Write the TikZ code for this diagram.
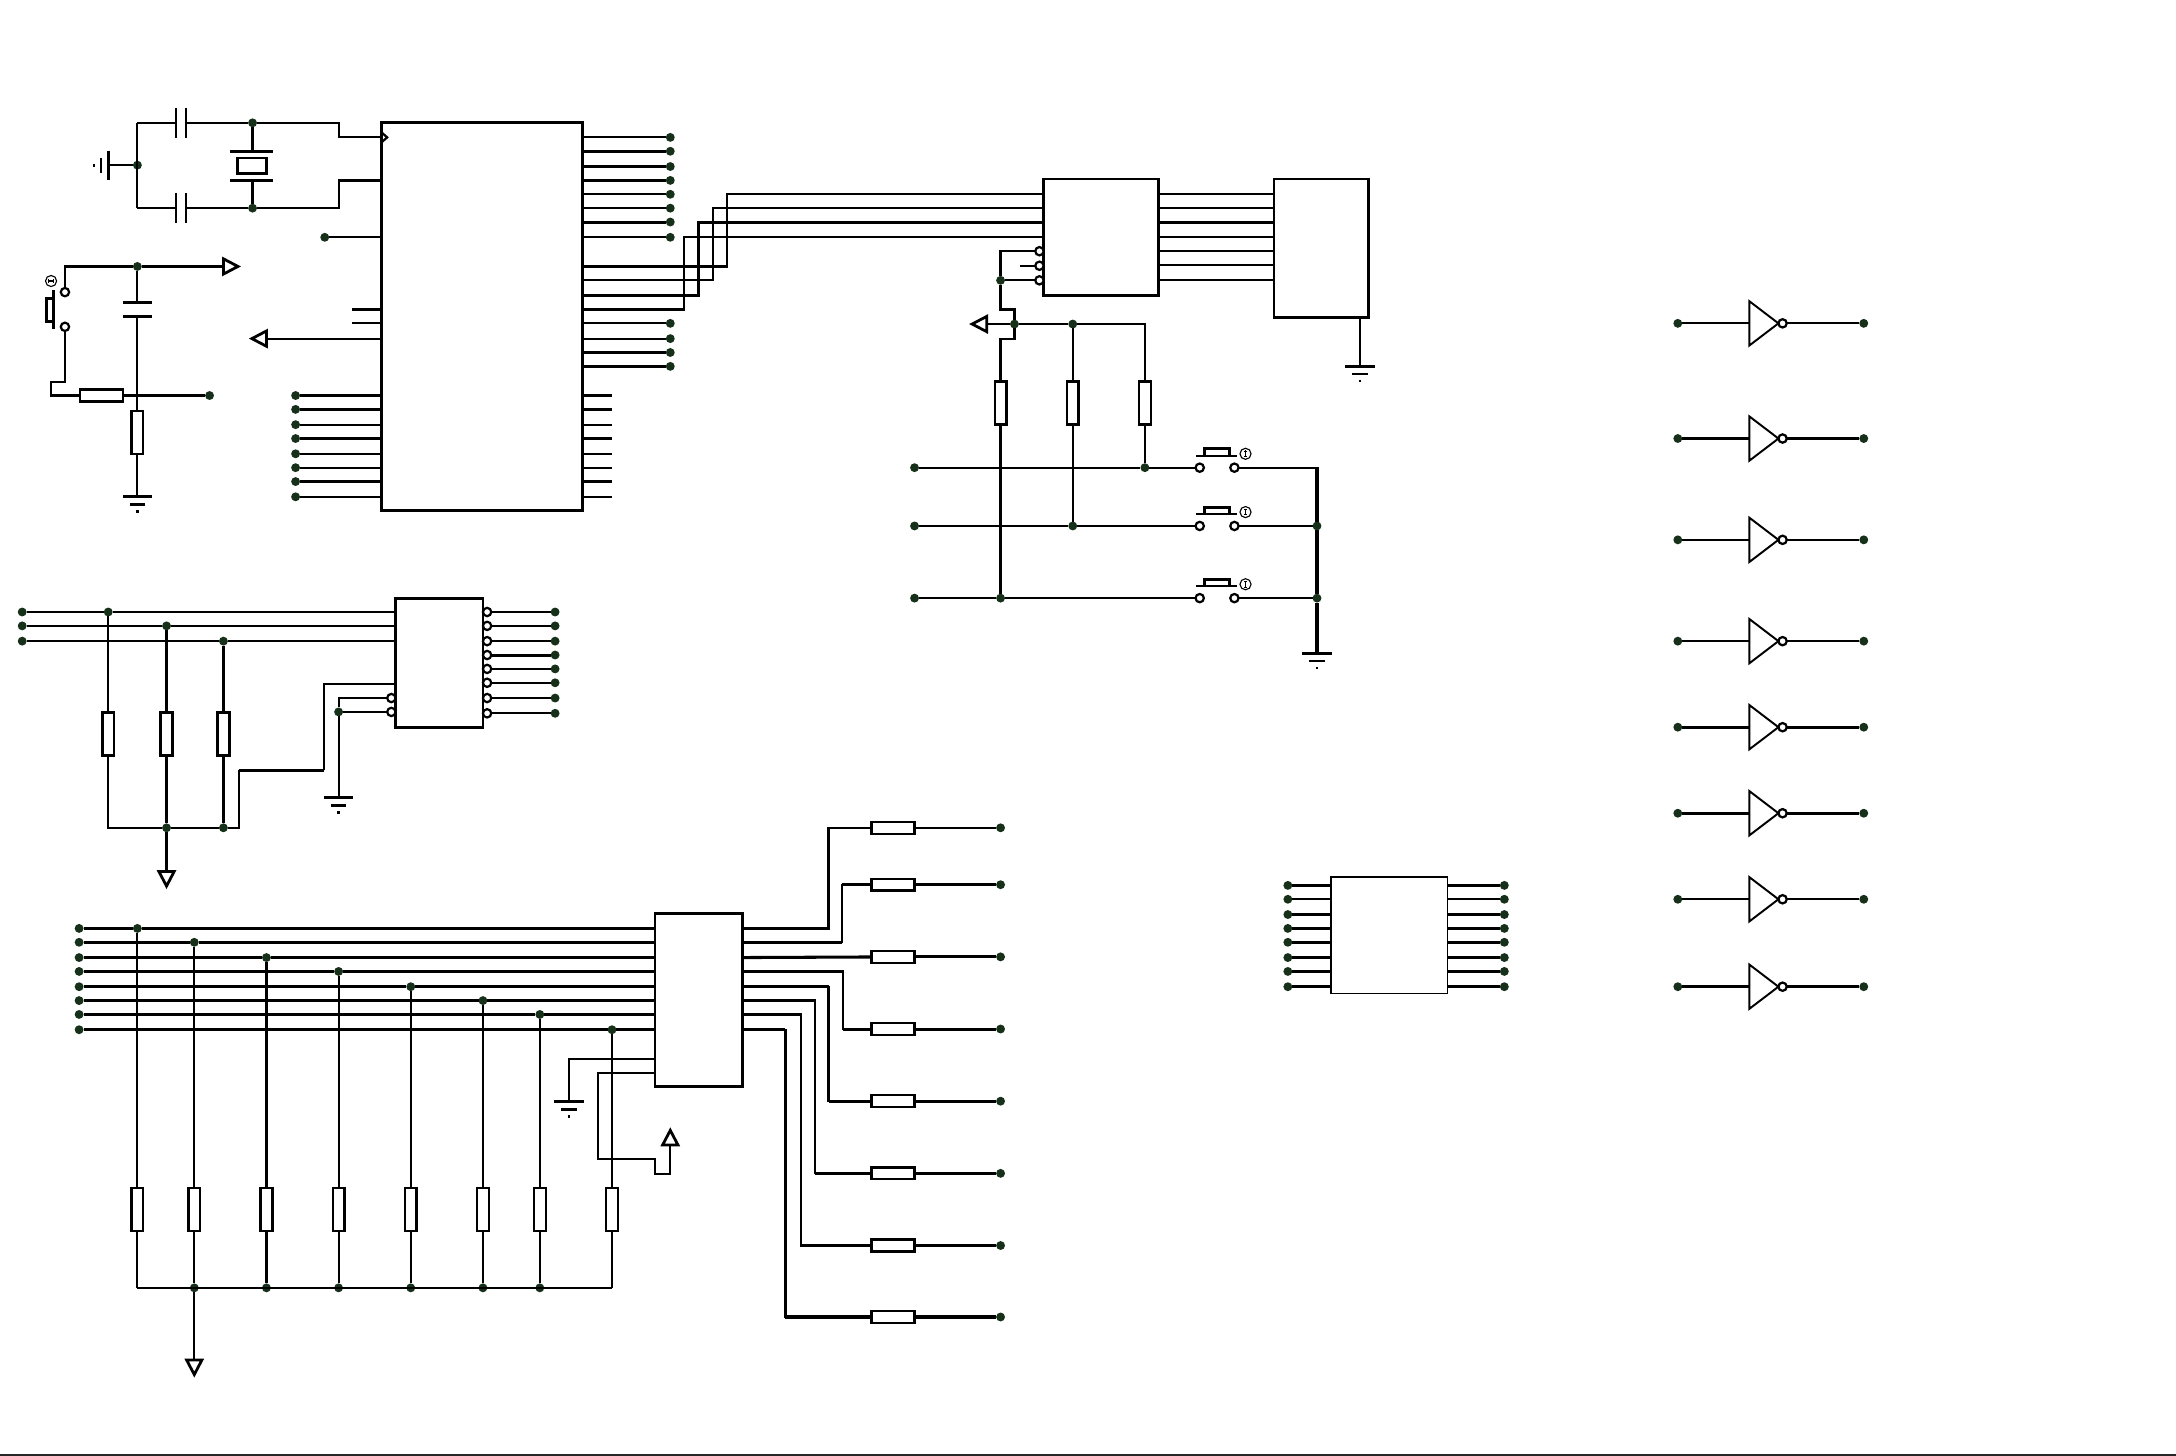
\documentclass[tikz,border=0pt]{standalone}
\usepackage{xcolor}
\usepackage{tikz}
\usetikzlibrary{arrows,calc}
\definecolor{dotgreen}{HTML}{16301A}

\begin{document}
\begin{tikzpicture}[>=stealth, x=1pt, y=-1pt,
wire/.style={line width=1.6pt, draw=black},
bwire/.style={line width=2.2pt, draw=black},
chip/.style={draw=black, fill=white, line width=2pt, inner sep=0pt, outer sep=0pt, anchor=north west},
rv/.style={draw=black, fill=white, line width=1.7pt, inner sep=0pt, outer sep=0pt, minimum width=8.5pt, minimum height=31pt},
rh/.style={draw=black, fill=white, line width=1.7pt, inner sep=0pt, outer sep=0pt, minimum width=31pt, minimum height=8.5pt},
jdot/.style={circle, fill=dotgreen, inner sep=0pt, outer sep=0pt, minimum size=6.4pt},
opin/.style={circle, draw=black, fill=white, line width=1.6pt, inner sep=0pt, outer sep=0pt, minimum size=6pt},
bcirc/.style={circle, draw=black, fill=white, line width=.8pt, inner sep=0pt, minimum size=8pt},
tipw/.style={line width=2pt, draw=black, fill=white, line join=miter}
]
\useasboundingbox (0,0) rectangle (1568,1049);
\def\gndd(#1:#2:#3:#4){
\coordinate (#1) at (#2,#3);
\begin{scope}[shift={(#2,#3)}, rotate=#4]
\draw[bwire] (-10.5,0) -- (10.5,0);
\draw[wire] (-5.5,5.5) -- (5.5,5.5);
\draw[wire] (-1,10.5) -- (1,10.5);
\end{scope}
}
\def\harrow(#1:#2:#3:#4){
\coordinate (#1) at (#2,#3);
\draw[tipw, shift={(#2,#3)}, rotate=#4] (0,-5.5) -- (10.5,0) -- (0,5.5) -- cycle;
}
\def\pbtn(#1:#2){
\node[opin] (#1a) at (864.5,#2) {}; \node[opin] (#1b) at (889.5,#2) {};
\draw[wire] (862,{#2-8.5}) -- (891.5,{#2-8.5});
\draw[bwire] (868,{#2-8.5}) -- (868,{#2-13.5}) -- (886,{#2-13.5}) -- (886,{#2-8.5});
\node[bcirc] (#1c) at (897.5,{#2-10}) {};
\draw[line width=.9pt] (897.5,{#2-12.4}) -- (897.5,{#2-7.6});
\draw[line width=.7pt] (896.3,{#2-12}) -- (898.7,{#2-12}); \draw[line width=.7pt] (896.3,{#2-8}) -- (898.7,{#2-8});
}
% Create the chips
\node[chip, minimum width=145pt, minimum height=280pt] (mcu) at (275,88) {};
\node[chip, minimum width=63pt, minimum height=93pt] (dmxa) at (285,431) {};
\node[chip, minimum width=83pt, minimum height=84pt] (latch) at (752,129) {};
\node[chip, minimum width=68pt, minimum height=100pt] (lcd) at (918,129) {};
\node[chip, minimum width=63pt, minimum height=125pt] (dmxb) at (472,658) {};
\node[chip, minimum width=84pt, minimum height=84pt, line width=.9pt] (drv) at (959,632) {};
% Crystal and its capacitors
\node[jdot] (xa) at (182,88.5) {}; \node[jdot] (xb) at (182,150) {}; \node[jdot] (xg) at (99,119) {};
\coordinate (xl) at (99,88.5); \coordinate (xm) at (99,150);
\coordinate (ca) at (127,88.5); \coordinate (cb) at (134,88.5);
\coordinate (cc) at (127,150); \coordinate (cd) at (134,150);
\coordinate (ck) at (275,99); \coordinate (xi) at (275,130);
\draw[wire] (xl) -- (ca); \draw[wire] (cb) -- (xa); \draw[wire] (xm) -- (cc); \draw[wire] (cd) -- (xb);
\draw[wire] (xl) -- (xm);
\draw[wire] (xa) -- (244,88.5) -- (244,99) -- (ck);
\draw[wire] (xb) -- (244,150) -- (244,130) -- (xi);
\draw[wire] (ca)+(0,-11) -- +(0,11); \draw[wire] (cb)+(0,-11) -- +(0,11);
\draw[wire] (cc)+(0,-11) -- +(0,11); \draw[wire] (cd)+(0,-11) -- +(0,11);
\draw[wire] (275,95.5) -- (279,99) -- (275,102.5);
\draw[bwire] (166,109) -- (197,109); \draw[wire] (166,130) -- (197,130);
\node[draw=black, fill=white, line width=1.8pt, inner sep=0pt, minimum width=21pt, minimum height=11pt] (xtal) at (181.5,119.5) {};
\coordinate (xc) at (182,109); \coordinate (xd) at (182,130);
\draw[wire] (xa) -- (xc); \draw[wire] (xb) -- (xd);
\gndd(gl:78:119:-90)
\draw[wire] (xg) -- (gl);
% Pins of the controller
\node[jdot] (pe) at (234,171) {}; \coordinate (pf) at (275,171); \draw[wire] (pe) -- (pf);
\foreach \y in {223,233} { \draw[wire] (254,\y) -- (275,\y); }
\harrow(al:192:244:180)
\coordinate (pg) at (275,244); \draw[wire] (pg) -- (al);
\foreach \y/\st [count=\i] in {99/wire,109/bwire,120/wire,130/wire,140/wire,150/wire,160/bwire,171/wire,233/wire,244/wire,254/wire,264/bwire} {
\coordinate (ps\i) at (420,\y); \node[jdot] (pr\i) at (483,\y) {}; \draw[\st] (ps\i) -- (pr\i);
}
\foreach \y/\st [count=\i] in {285/wire,295/wire,306/wire,316/bwire,327/wire,337/wire,347/wire,358/wire} {
\node[jdot] (pl\i) at (213,\y) {}; \coordinate (pm\i) at (275,\y); \draw[\st] (pl\i) -- (pm\i);
\coordinate (pn\i) at (420,\y); \coordinate (po\i) at (441,\y); \draw[\st] (pn\i) -- (po\i);
}
\foreach \ya/\xb/\yb/\st [count=\i] in {192/524/140/wire,202/514/150/wire,213/503/160/bwire,223/493/171/wire} {
\coordinate (ua\i) at (420,\ya); \coordinate (ub\i) at (752,\yb);
\draw[\st] (ua\i) -| (\xb,\yb) -- (ub\i);
}
% Reset
\node[jdot] (rs) at (99,192) {}; \node[jdot] (rt) at (151,285) {};
\node[opin] (sa) at (46.8,210.5) {}; \node[opin] (sb) at (46.8,235.5) {};
\node[rh] (rb) at (73,285) {}; \node[rv] (rc) at (99,311.5) {};
\harrow(ar:161:192:0)
\coordinate (cp) at (99,218); \coordinate (cq) at (99,228); \coordinate (rj) at (99,285);
\gndd(gr:99:358:0)
\draw[wire] (sa) -- (46.8,192) -- (rs); \draw[wire] (rs) -- (ar);
\draw[wire] (sb) -- (46.8,275) -- (36.5,275) -- (36.5,285) -- (rb);
\draw[wire] (rb) -- (rt);
\draw[wire] (rs) -- (cp); \draw[wire] (cq) -- (rj) -- (rc); \draw[wire] (rc) -- (gr);
\draw[bwire] (88.5,218) -- (109.5,218); \draw[wire] (88.5,228) -- (109.5,228);
\draw[wire] (38.6,209) -- (38.6,237);
\draw[bwire] (38.6,215) -- (33.5,215) -- (33.5,232) -- (38.6,232);
\node[bcirc] (sc) at (36.8,202.5) {};
\draw[line width=.9pt] (34.4,202.5) -- (39.2,202.5);
\draw[line width=.7pt] (34.8,201.3) -- (34.8,203.7); \draw[line width=.7pt] (38.8,201.3) -- (38.8,203.7);
% First decoder
\foreach \y/\x/\n in {441/78/a,451/120/b,462/161/c} {
\node[jdot] (di\n) at (16,\y) {}; \node[jdot] (dj\n) at (\x,\y) {}; \coordinate (dk\n) at (285,\y);
\node[rv] (dr\n) at (\x,529) {}; \coordinate (dm\n) at (\x,596.5);
\draw[wire] (di\n) -- (dj\n) -- (dk\n);
}
\node[jdot] (dnb) at (120,596.5) {}; \node[jdot] (dnc) at (161,596.5) {};
\draw[wire] (dja) -- (dra); \draw[wire] (dra) -- (dma) -- (dnb);
\draw[wire] (djb) -- (drb); \draw[wire] (drb) -- (dnb);
\draw[bwire] (djc) -- (drc); \draw[bwire] (drc) -- (dnc);
\draw[wire] (dnb) -- (dnc);
\coordinate (dp) at (285,493);
\draw[wire] (dnc) -- (172,596.5) -- (172,555); \draw[bwire] (172,555) -- (233.5,555); \draw[wire] (233.5,555) -- (233.5,493) -- (dp);
\harrow(ad:120:628:-90)
\draw[wire] (dnb) -- (ad);
\node[opin] (dq) at (282,503) {}; \node[opin] (ds) at (282,513) {}; \node[jdot] (dt) at (244,513) {};
\gndd(gd:244:575:0)
\draw[wire] (dq) -- (244,503) -- (dt); \draw[wire] (ds) -- (dt); \draw[wire] (dt) -- (gd);
\foreach \y/\st [count=\i] in {441/wire,451/wire,462/wire,472/bwire,482/wire,492/wire,503/wire,514/wire} {
\node[opin] (dv\i) at (351,\y) {}; \node[jdot] (dw\i) at (400,\y) {}; \draw[\st] (dv\i) -- (dw\i);
}
% Latch and display
\foreach \y/\st [count=\i] in {140/wire,150/wire,160/bwire,171/wire,181/wire,191/wire,202/wire} {
\coordinate (la\i) at (835,\y); \coordinate (lb\i) at (918,\y); \draw[\st] (la\i) -- (lb\i);
}
\node[opin] (lc) at (749,181) {}; \node[opin] (ld) at (749,191.5) {}; \node[opin] (le) at (749,202) {};
\node[jdot] (lf) at (721,202) {}; \coordinate (lg) at (735,191.5);
\draw[wire] (lc) -- (721,181) -- (lf); \draw[wire] (lg) -- (ld); \draw[wire] (le) -- (lf);
\coordinate (lh) at (980,229); \gndd(gh:980:264:0) \draw[wire] (lh) -- (gh);
% Keys
\node[jdot] (ka) at (731,233.5) {}; \node[jdot] (kb) at (773,233.5) {};
\node[rv] (kra) at (721,290.5) {}; \node[rv] (krb) at (773,290.5) {}; \node[rv] (krc) at (825,290.5) {};
\harrow(ak:711:233.5:180)
\draw[wire] (ka) -- (ak);
\draw[wire] (ka) -- (kb); \draw[wire] (kb) -- (825,233.5) -- (krc); \draw[wire] (kb) -- (krb);
\draw[wire] (lf) -- (721,223) -- (731,223) -- (ka);
\draw[wire] (ka) -- (731,244) -- (721,244) -- (kra);
\pbtn(ba:337) \pbtn(bb:379) \pbtn(bc:431)
\node[jdot] (ke) at (659,337) {}; \node[jdot] (kf) at (659,379) {}; \node[jdot] (kg) at (659,431) {};
\node[jdot] (kh) at (825,337) {}; \node[jdot] (ki) at (773,379) {}; \node[jdot] (kj) at (721,431) {};
\node[jdot] (kl) at (949,379) {}; \node[jdot] (km) at (949,431) {};
\draw[wire] (ke) -- (kh) -- (baa); \draw[wire] (kf) -- (ki) -- (bba); \draw[wire] (kg) -- (kj) -- (bca);
\draw[wire] (krc) -- (kh); \draw[wire] (krb) -- (ki); \draw[wire] (kra) -- (kj);
\gndd(gk:949:471:0)
\draw[wire] (bab) -- (949,337); \draw[wire] (bbb) -- (kl); \draw[wire] (bcb) -- (km);
\draw[bwire] (949,336.3) -- (kl) -- (km) -- (gk);
% Second decoder
\foreach \y/\x/\st [count=\i] in {669/99/bwire,679/140/bwire,690/192/bwire,700/244/wire,711/296/bwire,721/348/bwire,731/389/bwire,742/441/bwire} {
\node[jdot] (ea\i) at (57,\y) {}; \node[jdot] (eb\i) at (\x,\y) {}; \coordinate (ec\i) at (472,\y);
\node[rv] (er\i) at (\x,871.5) {};
\draw[\st] (ea\i) -- (eb\i) -- (ec\i);
\draw[wire] (eb\i) -- (er\i);
}
\coordinate (ef1) at (99,928); \coordinate (ef8) at (441,928);
\foreach \x [count=\i from 2] in {140,192,244,296,348,389} { \node[jdot] (ef\i) at (\x,928) {}; \draw[wire] (er\i) -- (ef\i); }
\draw[wire] (er1) -- (ef1); \draw[wire] (er8) -- (ef8);
\draw[wire] (ef1) -- (ef8);
\harrow(ae:140:980:-90)
\draw[wire] (ef2) -- (ae);
\coordinate (eg) at (472,763); \coordinate (eh) at (472,773);
\gndd(ge:410:794:0)
\draw[wire] (eg) -- (410,763) -- (ge);
\harrow(au:483:825:90)
\draw[wire] (eh) -- (431,773) -- (431,835) -- (472,835) -- (472,846) -- (483,846) -- (au);
\foreach \yb/\y/\xv/\st [count=\i] in {669/596.5/597/wire,679/637.5/607/bwire,700/741.5/607.5/bwire,711/793.5/597/bwire,721/845.5/587/bwire,731/897.5/577/bwire,742/949/566/bwire} {
\coordinate (es\i) at (535,\yb); \node[rh] (et\i) at (643.5,\y) {}; \node[jdot] (eu\i) at (721,\y) {};
\draw[wire] (es\i) -- (\xv,\yb) -- (\xv,\y) -- (et\i);
\draw[bwire] (es\i) -- (\xv,\yb); \draw[\st] (\xv,\y) -- (et\i); \draw[\st] (et\i) -- (eu\i);
}
\coordinate (ev) at (535,690); \node[rh] (ew) at (643.5,689.5) {}; \node[jdot] (ex) at (721,689.5) {};
\draw[bwire] (ev) -- (ew); \draw[bwire] (ew) -- (ex);
% Driver
\foreach \y/\st [count=\i] in {638/bwire,648/wire,659/bwire,669/bwire,679/bwire,690/bwire,700/wire,711/bwire} {
\node[jdot] (fa\i) at (928,\y) {}; \coordinate (fb\i) at (959,\y); \draw[\st] (fa\i) -- (fb\i);
\coordinate (fc\i) at (1043,\y); \node[jdot] (fd\i) at (1084,\y) {}; \draw[\st] (fc\i) -- (fd\i);
}
% Inverters
\foreach \y/\st [count=\i] in {233/wire,316/bwire,389/wire,462/wire,524/bwire,586/bwire,648/wire,711/bwire} {
\node[jdot] (ga\i) at (1209,\y) {}; \coordinate (gb\i) at (1260.5,\y);
\node[opin] (gc\i) at (1284.5,\y) {}; \node[jdot] (gf\i) at (1343,\y) {};
\draw[line width=1.4pt] (gb\i) ++(0,-16) -- ++(21,16) -- ++(-21,16) -- cycle;
\draw[\st] (ga\i) -- (gb\i); \draw[\st] (gc\i) -- (gf\i);
}
\draw[line width=1.2pt, black!85] (0,1048.5) -- (1568,1048.5);
\end{tikzpicture}
\end{document}
